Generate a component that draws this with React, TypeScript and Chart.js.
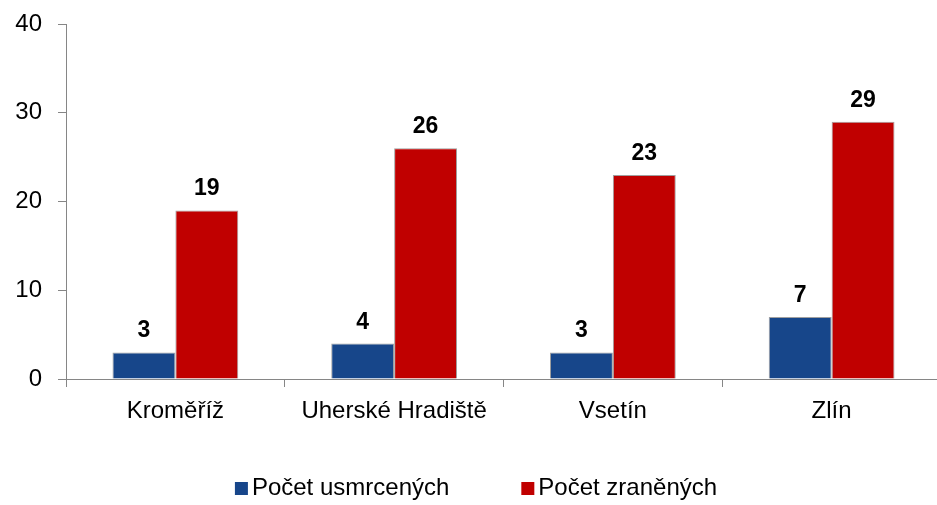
import React, { useEffect, useRef } from "react";
import { Chart, registerables } from "chart.js";

Chart.register(...registerables);

const categories = ["Kroměříž", "Uherské Hradiště", "Vsetín", "Zlín"];
const killed = [3, 4, 3, 7];
const injured = [19, 26, 23, 29];
const seriesNames = ["Počet usmrcených", "Počet zraněných"];
const seriesColors = ["#17468a", "#c00000"];
const yTicks = [0, 10, 20, 30, 40];

const FONT = '"Liberation Sans", Arial, sans-serif';

const dataLabelPlugin = {
  id: "dataLabels",
  afterDatasetsDraw(chart: any) {
    const ctx = chart.ctx;
    ctx.save();
    ctx.font = `bold 23px ${FONT}`;
    ctx.fillStyle = "#000";
    ctx.textAlign = "center";
    ctx.textBaseline = "alphabetic";
    chart.data.datasets.forEach((ds: any, i: number) => {
      const meta = chart.getDatasetMeta(i);
      meta.data.forEach((bar: any, j: number) => {
        ctx.fillText(String(ds.data[j]), bar.x, bar.y - 15);
      });
    });
    ctx.restore();
  },
};

const legendPlugin = {
  id: "customLegend",
  afterDraw(chart: any) {
    const ctx = chart.ctx;
    ctx.save();
    ctx.font = `24px ${FONT}`;
    const box = 13;
    const gapText = 4;
    const gapItems = 72;
    const widths = chart.data.datasets.map(
      (ds: any) => box + gapText + ctx.measureText(ds.label).width
    );
    const total = widths.reduce((a: number, b: number) => a + b, 0) + gapItems * (widths.length - 1);
    let x = 476 - total / 2;
    const y = 488;
    chart.data.datasets.forEach((ds: any, i: number) => {
      ctx.fillStyle = ds.backgroundColor;
      ctx.fillRect(x, y - 6, box, box);
      ctx.fillStyle = "#000";
      ctx.textAlign = "left";
      ctx.textBaseline = "alphabetic";
      ctx.fillText(ds.label, x + box + gapText, y + 7);
      x += widths[i] + gapItems;
    });
    ctx.restore();
  },
};

export default function App() {
  const ref = useRef<HTMLCanvasElement | null>(null);

  useEffect(() => {
    if (!ref.current) return;
    const chart = new Chart(ref.current, {
      type: "bar",
      data: {
        labels: categories,
        datasets: [
          {
            label: seriesNames[0],
            data: killed,
            backgroundColor: seriesColors[0],
            borderColor: "rgba(120,120,120,0.7)",
            borderWidth: 1,
          },
          {
            label: seriesNames[1],
            data: injured,
            backgroundColor: seriesColors[1],
            borderColor: "rgba(120,120,120,0.7)",
            borderWidth: 1,
          },
        ],
      },
      options: {
        animation: false,
        responsive: false,
        maintainAspectRatio: false,
        datasets: { bar: { categoryPercentage: 0.575, barPercentage: 1 } },
        layout: { padding: { top: 24, right: 4, left: 0, bottom: 0 } },
        plugins: {
          legend: { display: false },
          tooltip: { enabled: false },
        },
        scales: {
          x: {
            afterFit(scale: any) {
              scale.height = 126;
              scale.paddingLeft = 0;
              scale.paddingRight = 0;
            },
            grid: {
              display: true,
              drawOnChartArea: false,
              tickLength: 8,
              color: "#868686",
              offset: true,
            },
            border: { color: "#868686", width: 1 },
            ticks: {
              color: "#000",
              font: { family: FONT, size: 24 },
              padding: 10,
              maxRotation: 0,
            },
          },
          y: {
            min: 0,
            max: 40,
            afterFit(scale: any) {
              scale.width = 66;
              scale.paddingTop = 0;
              scale.paddingBottom = 0;
            },
            afterBuildTicks(scale: any) {
              scale.ticks = yTicks.map((v) => ({ value: v }));
            },
            grid: {
              display: true,
              drawOnChartArea: false,
              tickLength: 8,
              color: "#868686",
            },
            border: { color: "#868686", width: 1 },
            ticks: {
              color: "#000",
              font: { family: FONT, size: 24 },
              padding: 16,
            },
          },
        },
      },
      plugins: [dataLabelPlugin, legendPlugin],
    });
    return () => chart.destroy();
  }, []);

  return (
    <div style={{ position: "fixed", left: 0, top: 0, right: 0, bottom: 0, overflow: "hidden", background: "#fff" }}>
      <canvas ref={ref} width={945} height={505} style={{ display: "block", width: 945, height: 505 }} />
    </div>
  );
}
